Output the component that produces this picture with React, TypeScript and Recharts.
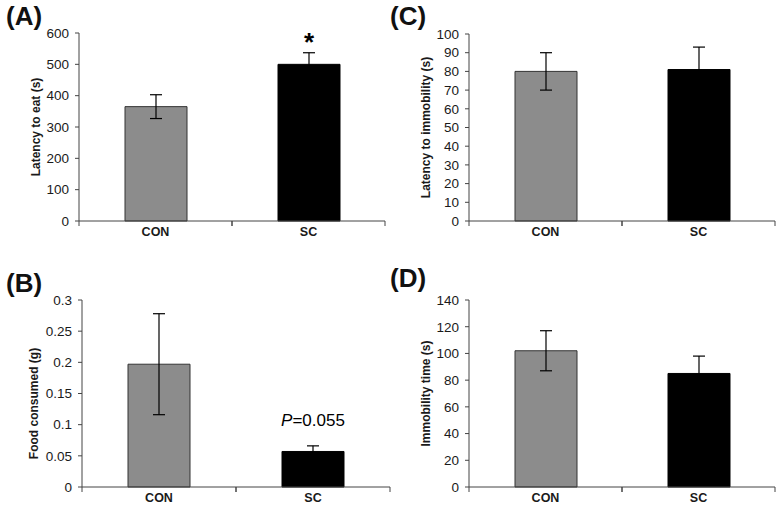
import React from 'react';
import { BarChart, Bar, XAxis, YAxis, ErrorBar, Cell, LabelList, Label } from 'recharts';

const categories = ['CON', 'SC'];
const barFills = ['#8c8c8c', '#000000'];
const barStrokes = ['#333333', '#000000'];

const latencyToEat = [365, 500];
const latencyToEatErr = [38, 37];
const latencyToEatNotes = ['', '*'];
const latencyToEatTicks = [0, 100, 200, 300, 400, 500, 600];

const foodConsumed = [0.197, 0.057];
const foodConsumedErr = [0.081, 0.009];
const foodConsumedNotes = ['', 'P=0.055'];
const foodConsumedTicks = [0, 0.05, 0.1, 0.15, 0.2, 0.25, 0.3];

const latencyToImmobility = [80, 81];
const latencyToImmobilityErr = [10, 12];
const latencyToImmobilityNotes = ['', ''];
const latencyToImmobilityTicks = [0, 10, 20, 30, 40, 50, 60, 70, 80, 90, 100];

const immobilityTime = [102, 85];
const immobilityTimeErr = [15, 13];
const immobilityTimeNotes = ['', ''];
const immobilityTimeTicks = [0, 20, 40, 60, 80, 100, 120, 140];

const FONT = '"Liberation Sans", Arial, Helvetica, sans-serif';
const AXIS = '#444';
const TEXT = '#1a1a1a';

function build(values: number[], errs: number[], notes: string[]) {
  return categories.map((name, i) => ({ name, value: values[i], err: errs[i], note: notes[i] }));
}

// Category label at the band centre plus Excel-style tick marks at band boundaries
function CatTick(props: any) {
  const { x, y, payload, width } = props;
  const px = Number(x);
  const py = Number(y);
  let half = payload && typeof payload.offset === 'number' && payload.offset > 0 ? payload.offset : NaN;
  if (!isFinite(half)) half = Number(width) / categories.length / 2;
  return (
    <g>
      <line x1={px - half} x2={px - half} y1={py} y2={py + 5} stroke={AXIS} strokeWidth={1} />
      <line x1={px + half} x2={px + half} y1={py} y2={py + 5} stroke={AXIS} strokeWidth={1} />
      <text x={px} y={py + 6} dy="0.71em" textAnchor="middle" fontSize={12.5} fontWeight="bold" fill={TEXT} fontFamily={FONT}>
        {payload.value}
      </text>
    </g>
  );
}

function renderNote(props: any) {
  const { x, y, width, value } = props;
  if (!value) return null;
  const cx = Number(x) + Number(width) / 2;
  const top = Number(y);
  if (value === '*') {
    return (
      <text x={cx} y={top - 13} textAnchor="middle" fontSize={26} fontWeight="bold" fill="#000" fontFamily={FONT}>
        {value}
      </text>
    );
  }
  const parts = String(value).split('=');
  return (
    <text x={cx} y={top - 25} textAnchor="middle" fontSize={17} fill="#000" fontFamily={FONT}>
      <tspan fontStyle="italic">{parts[0]}</tspan>
      <tspan>{'=' + parts[1]}</tspan>
    </text>
  );
}

type PanelProps = {
  letter: string;
  data: any[];
  ticks: number[];
  yLabel: string;
  left: number;
  right: number;
  top: number;
  bottom: number;
  labelDx: number;
  labelDy: number;
  letterX: number;
  letterY: number;
};

function Panel(p: PanelProps) {
  const max = p.ticks[p.ticks.length - 1];
  return (
    <div style={{ position: 'relative', width: 392, height: 258 }}>
      <div
        style={{
          position: 'absolute',
          left: p.letterX,
          top: p.letterY,
          fontSize: 26,
          fontWeight: 'bold',
          lineHeight: '30px',
          fontFamily: FONT,
          color: '#111',
          zIndex: 2,
        }}
      >
        {p.letter}
      </div>
      <BarChart
        width={392}
        height={258}
        data={p.data}
        margin={{ top: p.top, right: p.right, bottom: 0, left: 0 }}
      >
        <XAxis
          dataKey="name"
          type="category"
          height={p.bottom}
          interval={0}
          axisLine={{ stroke: AXIS }}
          tickLine={false}
          tickSize={0}
          tickMargin={0}
          tick={<CatTick />}
        />
        <YAxis
          type="number"
          domain={[0, max]}
          ticks={p.ticks}
          interval={0}
          width={p.left}
          axisLine={{ stroke: AXIS }}
          tickLine={{ stroke: AXIS }}
          tickSize={4}
          tickMargin={6}
          tick={{ fontSize: 13.5, fill: TEXT, fontFamily: FONT }}
        >
          <Label
            value={p.yLabel}
            angle={-90}
            position="center"
            dx={p.labelDx}
            dy={p.labelDy}
            style={{ fontSize: 12, fontWeight: 'bold', fill: TEXT, fontFamily: FONT, textAnchor: 'middle' }}
          />
        </YAxis>
        <Bar dataKey="value" barSize={62} stroke="#000" strokeWidth={1} isAnimationActive={false}>
          {p.data.map((d, i) => (
            <Cell key={d.name} fill={barFills[i]} stroke={barStrokes[i]} />
          ))}
          <ErrorBar dataKey="err" direction="y" width={6} stroke="#000" strokeWidth={1.2} />
          <LabelList dataKey="note" content={renderNote} />
        </Bar>
      </BarChart>
    </div>
  );
}

export default function App() {
  const dataA = build(latencyToEat, latencyToEatErr, latencyToEatNotes);
  const dataB = build(foodConsumed, foodConsumedErr, foodConsumedNotes);
  const dataC = build(latencyToImmobility, latencyToImmobilityErr, latencyToImmobilityNotes);
  const dataD = build(immobilityTime, immobilityTimeErr, immobilityTimeNotes);
  return (
    <div style={{ position: 'absolute', left: 0, top: 0, width: 784, height: 516, background: '#fff' }}>
      <div style={{ position: 'absolute', left: 0, top: 0 }}>
        <Panel letter="(A)" data={dataA} ticks={latencyToEatTicks} yLabel="Latency to eat (s)"
          left={79} right={7} top={33} bottom={37} labelDx={-4} labelDy={0} letterX={6} letterY={1} />
      </div>
      <div style={{ position: 'absolute', left: 392, top: 0 }}>
        <Panel letter="(C)" data={dataC} ticks={latencyToImmobilityTicks} yLabel="Latency to immobility (s)"
          left={77} right={9} top={34} bottom={37} labelDx={-5} labelDy={0} letterX={-2} letterY={1} />
      </div>
      <div style={{ position: 'absolute', left: 0, top: 258 }}>
        <Panel letter="(B)" data={dataB} ticks={foodConsumedTicks} yLabel="Food consumed (g)"
          left={82} right={2} top={42} bottom={29} labelDx={-7} labelDy={10} letterX={6} letterY={10} />
      </div>
      <div style={{ position: 'absolute', left: 392, top: 258 }}>
        <Panel letter="(D)" data={dataD} ticks={immobilityTimeTicks} yLabel="Immobility time (s)"
          left={77} right={9} top={42} bottom={29} labelDx={-5} labelDy={0} letterX={-2} letterY={5} />
      </div>
    </div>
  );
}
